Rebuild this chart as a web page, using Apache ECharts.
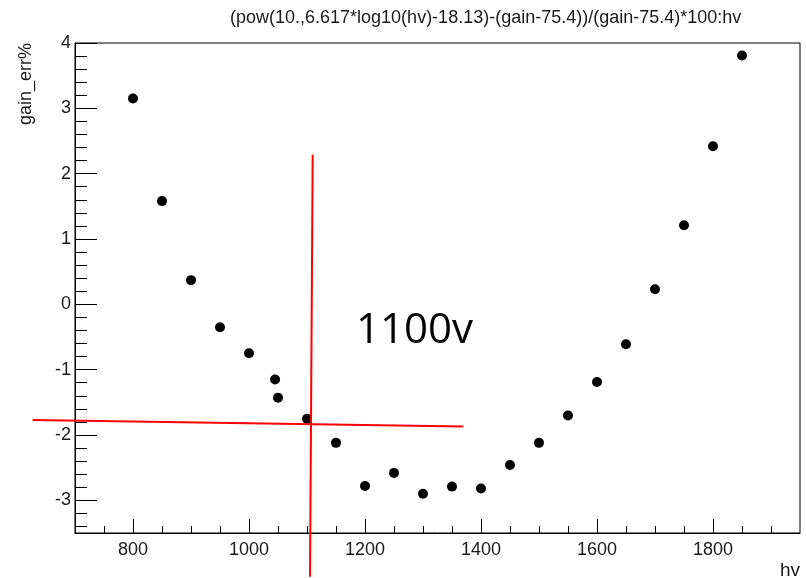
<!DOCTYPE html>
<html>
<head>
<meta charset="utf-8">
<script src="https://cdn.jsdelivr.net/npm/echarts@6/dist/echarts.min.js"></script>
<style>html,body{margin:0;padding:0;background:#fff;}#c{width:806px;height:578px;}</style>
</head>
<body>
<div id="c"></div>
<script>
// ---- data ----
var hv = [800, 850, 900, 950, 1000, 1045, 1050, 1100, 1150, 1200, 1250, 1300, 1350, 1400, 1450, 1500, 1550, 1600, 1650, 1700, 1750, 1800, 1850];
var gainErr = [3.15, 1.58, 0.37, -0.35, -0.75, -1.15, -1.43, -1.75, -2.12, -2.78, -2.58, -2.90, -2.79, -2.82, -2.46, -2.12, -1.70, -1.19, -0.61, 0.23, 1.21, 2.42, 3.81];
var xMajorTicks = [800, 1000, 1200, 1400, 1600, 1800];
var xMinorTicks = [750, 850, 900, 950, 1050, 1100, 1150, 1250, 1300, 1350, 1450, 1500, 1550, 1650, 1700, 1750, 1850, 1900];
var yMajorTicks = [-3, -2, -1, 0, 1, 2, 3, 4];
var yMinorTicks = [-3.4, -3.2, -2.8, -2.6, -2.4, -2.2, -1.8, -1.6, -1.4, -1.2, -0.8, -0.6, -0.4, -0.2, 0.2, 0.4, 0.6, 0.8, 1.2, 1.4, 1.6, 1.8, 2.2, 2.4, 2.6, 2.8, 3.2, 3.4, 3.6, 3.8];
// annotation lines (data coordinates)
var vLine = [[1109.8, 2.29], [1105.2, -4.17]];
var hLine = [[627, -1.77], [1369.5, -1.87]];
var titleText = '(pow(10.,6.617*log10(hv)-18.13)-(gain-75.4))/(gain-75.4)*100:hv';
var xName = 'hv';
var yName = 'gain_err%';
var noteText = '1100v';

var xMin = 700, xMax = 1950, yMin = -3.5, yMax = 4;
var font = 'Liberation Sans, Arial, sans-serif';

var chart = echarts.init(document.getElementById('c'), null, {renderer: 'canvas'});
var pts = hv.map(function (x, i) { return [x, gainErr[i]]; });
function plain(v) { return String(v); }

function baseX(ticks, len, labels) {
  return {
    type: 'value', min: xMin, max: xMax, position: 'bottom',
    axisLine: {show: labels, onZero: false, lineStyle: {color: '#000', width: 1}},
    axisTick: {show: true, inside: true, length: len, customValues: ticks, lineStyle: {color: '#000', width: 1}},
    axisLabel: {show: labels, customValues: ticks, formatter: plain, margin: 8, fontSize: 18, fontFamily: font, color: '#1a1a1a'},
    splitLine: {show: false}
  };
}
function baseY(ticks, len, labels) {
  return {
    type: 'value', min: yMin, max: yMax, position: 'left',
    axisLine: {show: labels, onZero: false, lineStyle: {color: '#000', width: 1}},
    axisTick: {show: true, inside: true, length: len, customValues: ticks, lineStyle: {color: '#000', width: 1}},
    axisLabel: {show: labels, customValues: ticks, formatter: plain, margin: 4, fontSize: 18, fontFamily: font, color: '#1a1a1a'},
    splitLine: {show: false}
  };
}

chart.setOption({
  animation: false,
  backgroundColor: '#fff',
  title: {
    text: titleText, left: 225, top: 4,
    textStyle: {fontSize: 18, fontWeight: 'normal', fontFamily: font, color: '#1a1a1a'}
  },
  grid: {left: 75, top: 43, right: 6, bottom: 45, show: true, borderColor: '#000', borderWidth: 1, backgroundColor: 'transparent'},
  xAxis: [baseX(xMajorTicks, 14, true), baseX(xMinorTicks, 7, false)],
  yAxis: [baseY(yMajorTicks, 22, true), baseY(yMinorTicks, 12, false)],
  series: [
    {type: 'scatter', data: pts, symbol: 'circle', symbolSize: 10, itemStyle: {color: '#000', opacity: 1}, xAxisIndex: 0, yAxisIndex: 0, z: 3}
  ]
});

// red annotation lines placed through the chart's own scales
function toPx(p) { return chart.convertToPixel({gridIndex: 0}, p); }
var v0 = toPx(vLine[0]), v1 = toPx(vLine[1]);
var h0 = toPx(hLine[0]), h1 = toPx(hLine[1]);
chart.setOption({
  graphic: [
    {type: 'text', left: 17, top: 43, style: {text: yName, font: '18px ' + font, fill: '#1a1a1a'}, rotation: Math.PI / 2, originX: 0, originY: 0},
    {type: 'text', right: 6, top: 561, style: {text: xName, font: '19px ' + font, fill: '#1a1a1a'}},
    {type: 'text', left: 356, top: 310, style: {text: noteText, font: '42px Open Sans, Liberation Sans, sans-serif', fill: '#000'}},
    {type: 'line', shape: {x1: v0[0], y1: v0[1], x2: v1[0], y2: v1[1]}, style: {stroke: '#f00', lineWidth: 2}, z: 10},
    {type: 'line', shape: {x1: h0[0], y1: h0[1], x2: h1[0], y2: h1[1]}, style: {stroke: '#f00', lineWidth: 2}, z: 10}
  ]
});
</script>
</body>
</html>
